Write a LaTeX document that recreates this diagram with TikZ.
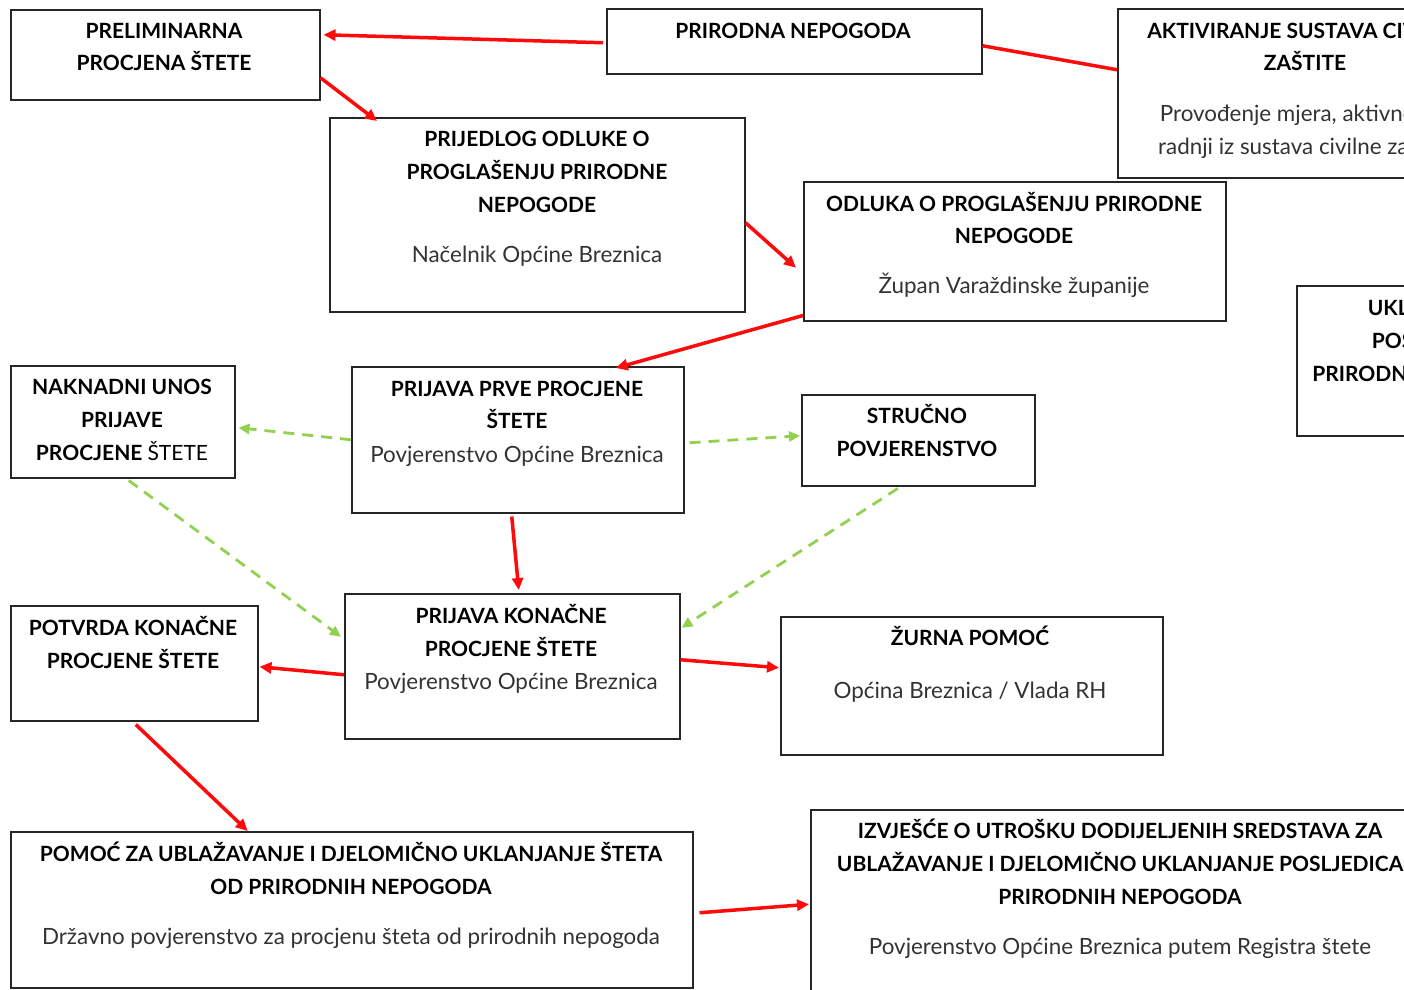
\documentclass[tikz,border=0pt]{standalone}
\usepackage{fontspec}
\setmainfont{Lato}
\usetikzlibrary{calc,arrows.meta}
\definecolor{redline}{HTML}{FF0A0A}
\definecolor{greenline}{HTML}{92D050}
\definecolor{boxline}{HTML}{262626}
\definecolor{subtext}{HTML}{333333}
\tikzset{
  box/.style={draw=boxline, line width=1.5pt, anchor=north west, inner sep=0pt, fill=white},
  ttl/.style={anchor=base, inner sep=0pt, font=\fontsize{21}{25}\selectfont\bfseries, text=black, yshift=-7.5pt},
  sub/.style={anchor=base, inner sep=0pt, font=\fontsize{22.4}{26}\selectfont, text=subtext, yshift=-7.5pt},
  redarrow/.style={draw=redline, line width=3.5pt, -{Triangle[length=12pt,width=11pt]}},
  redplain/.style={draw=redline, line width=3.5pt},
  greenarrow/.style={draw=greenline, line width=2.8pt, dash pattern=on 11pt off 8pt, -{Triangle[length=11pt,width=10pt]}},
}
\begin{document}
\begin{tikzpicture}[x=1pt,y=-1pt]
\useasboundingbox (0,0) rectangle (1404,989);
\fill[white] (0,0) rectangle (1404,989);
\clip (0,0) rectangle (1404,989);

% boxes
\node[box, minimum width=309pt, minimum height=90pt] (pre) at (10,9) {};
\node[box, minimum width=375pt, minimum height=65pt] (prn) at (606,8) {};
\node[box, minimum width=376pt, minimum height=169pt] (akt) at (1117,8) {};
\node[box, minimum width=415pt, minimum height=194pt] (pri) at (329,117) {};
\node[box, minimum width=422pt, minimum height=139pt] (odl) at (803,181) {};
\node[box, minimum width=270pt, minimum height=150pt] (ukl) at (1296,285) {};
\node[box, minimum width=224pt, minimum height=112pt] (nak) at (10,365) {};
\node[box, minimum width=332pt, minimum height=146pt] (ppp) at (351,366) {};
\node[box, minimum width=233pt, minimum height=91pt] (str) at (801,394) {};
\node[box, minimum width=247pt, minimum height=115pt] (pot) at (10,605) {};
\node[box, minimum width=335pt, minimum height=145pt] (pkp) at (344,593) {};
\node[box, minimum width=382pt, minimum height=138pt] (zur) at (780,616) {};
\node[box, minimum width=682pt, minimum height=156pt] (pom) at (10,831) {};
\node[box, minimum width=620pt, minimum height=190pt] (izv) at (810,809) {};

% texts
\node[ttl] (pre1) at (164,31) {PRELIMINARNA};
\node[ttl] (pre2) at (164,63) {PROCJENA ŠTETE};

\node[ttl] (prn1) at (793,31) {PRIRODNA NEPOGODA};

\node[ttl] (akt1) at (1305,31) {AKTIVIRANJE SUSTAVA CIVILNE};
\node[ttl] (akt2) at (1305,63) {ZAŠTITE};
\node[sub] (akt3) at (1305,114) {Provođenje mjera, aktivnosti i};
\node[sub] (akt4) at (1305,147) {radnji iz sustava civilne zaštite};

\node[ttl] (pri1) at (537,139) {PRIJEDLOG ODLUKE O};
\node[ttl] (pri2) at (537,172) {PROGLAŠENJU PRIRODNE};
\node[ttl] (pri3) at (537,205) {NEPOGODE};
\node[sub] (pri4) at (537,255) {Načelnik Općine Breznica};

\node[ttl] (odl1) at (1014,204) {ODLUKA O PROGLAŠENJU PRIRODNE};
\node[ttl] (odl2) at (1014,236) {NEPOGODE};
\node[sub] (odl3) at (1014,286) {Župan Varaždinske županije};

\node[ttl] (ukl1) at (1434,308) {UKLANJANJE};
\node[ttl] (ukl2) at (1434,341) {POSLJEDICA};
\node[ttl] (ukl3) at (1434,374) {PRIRODNIH NEPOGODA};

\node[ttl] (nak1) at (122,387) {NAKNADNI UNOS};
\node[ttl] (nak2) at (122,420) {PRIJAVE};
\node[ttl] (nak3) at (122,453) {PROCJENE \mdseries ŠTETE};

\node[ttl] (ppp1) at (517,389) {PRIJAVA PRVE PROCJENE};
\node[ttl] (ppp2) at (517,421) {ŠTETE};
\node[sub] (ppp3) at (517,455) {Povjerenstvo Općine Breznica};

\node[ttl] (str1) at (917,416) {STRUČNO};
\node[ttl] (str2) at (917,449) {POVJERENSTVO};

\node[ttl] (pot1) at (133,628) {POTVRDA KONAČNE};
\node[ttl] (pot2) at (133,661) {PROCJENE ŠTETE};

\node[ttl] (pkp1) at (511,616) {PRIJAVA KONAČNE};
\node[ttl] (pkp2) at (511,649) {PROCJENE ŠTETE};
\node[sub] (pkp3) at (511,682) {Povjerenstvo Općine Breznica};

\node[ttl] (zur1) at (970,638) {ŽURNA POMOĆ};
\node[sub] (zur2) at (970,691) {Općina Breznica / Vlada RH};

\node[ttl] (pom1) at (351,854) {POMOĆ ZA UBLAŽAVANJE I DJELOMIČNO UKLANJANJE ŠTETA};
\node[ttl] (pom2) at (351,887) {OD PRIRODNIH NEPOGODA};
\node[sub] (pom3) at (351,937) {Državno povjerenstvo za procjenu šteta od prirodnih nepogoda};

\node[ttl] (izv1) at (1120,831) {IZVJEŠĆE O UTROŠKU DODIJELJENIH SREDSTAVA ZA};
\node[ttl] (izv2) at (1120,864) {UBLAŽAVANJE I DJELOMIČNO UKLANJANJE POSLJEDICA};
\node[ttl] (izv3) at (1120,897) {PRIRODNIH NEPOGODA};
\node[sub] (izv4) at (1120,947) {Povjerenstvo Općine Breznica putem Registra štete};

% red connectors
\draw[redarrow] ($(prn.west)+(-3,1.5)$) -- ($(pre.east)+(3,-20)$);
\draw[redplain] ($(prn.east)+(0,4.5)$) -- ($(akt.west)+(0,-23.5)$);
\draw[redarrow] ($(pre.east)+(0,23)$) -- ($(pri.north west)+(48,4)$);
\draw[redarrow] ($(pri.east)+(0,8)$) -- ($(odl.west)+(-7,16.5)$);
\draw[redarrow] ($(odl.south west)+(0,-6)$) -- ($(ppp.north)+(98,2)$);
\draw[redarrow] ($(ppp.south)+(-6,3)$) -- ($(pkp.north)+(6.5,-3)$);
\draw[redarrow] ($(pkp.west)+(0,8.5)$) -- ($(pot.east)+(1,3.5)$);
\draw[redarrow] ($(pkp.east)+(0,-6.5)$) -- ($(zur.west)+(-1,-18)$);
\draw[redarrow] ($(pot.south)+(1.5,3)$) -- ($(pom.north)+(-104,0)$);
\draw[redarrow] ($(pom.east)+(6,3)$) -- ($(izv.west)+(-1,-0.5)$);

% green dashed connectors
\draw[greenarrow] (ppp.west) -- ($(nak.east)+(3,6)$);
\draw[greenarrow] ($(ppp.east)+(5,3)$) -- ($(str.west)+(-1,-4.5)$);
\draw[greenarrow] ($(nak.south)+(6,2)$) -- ($(pkp.west)+(-3,-29.5)$);
\draw[greenarrow] ($(str.south)+(-20.5,2)$) -- ($(pkp.east)+(1,-38.5)$);
\end{tikzpicture}
\end{document}
